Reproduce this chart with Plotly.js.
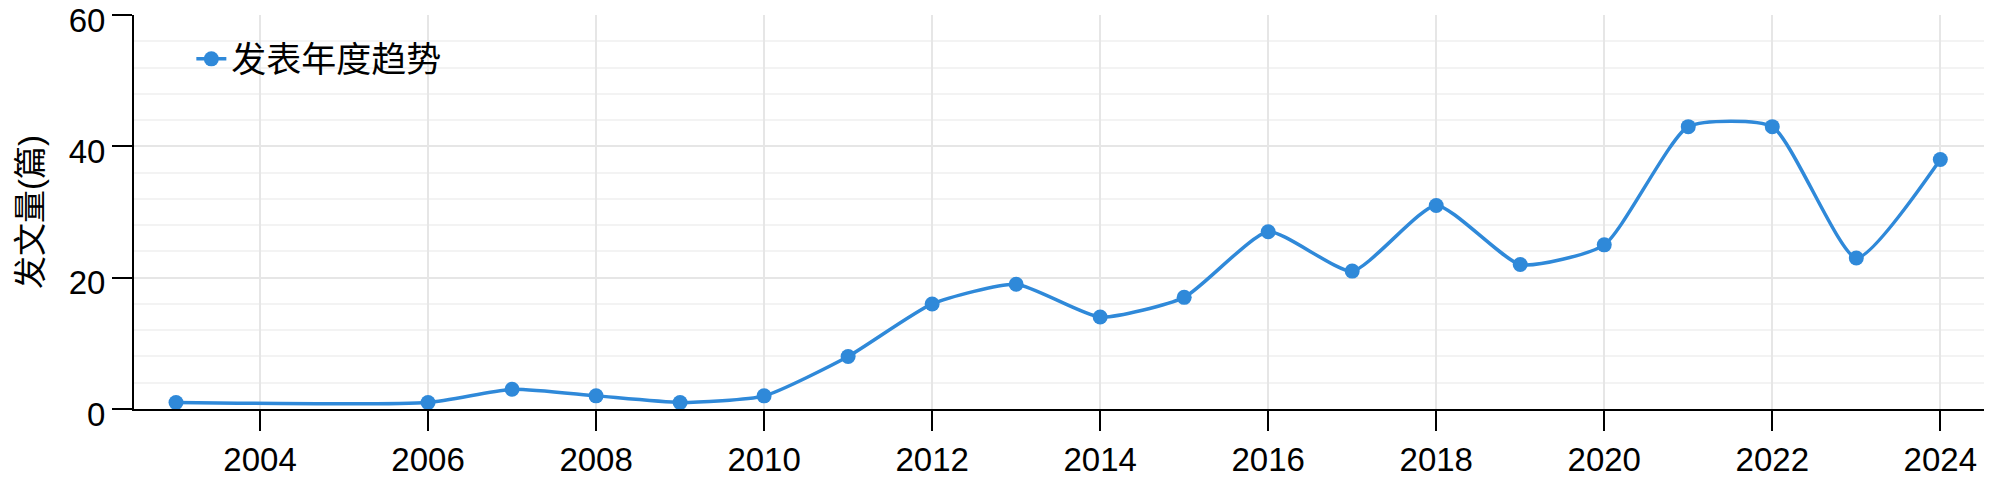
<!DOCTYPE html>
<html>
<head>
<meta charset="utf-8">
<script src="https://cdn.plot.ly/plotly-3.0.1.min.js"></script>
<style>html,body{margin:0;padding:0;background:#fff;}#chart{width:2000px;height:486px;}</style>
</head>
<body>
<div id="chart"></div>
<script>
const years = [2003, 2006, 2007, 2008, 2009, 2010, 2011, 2012, 2013, 2014, 2015, 2016, 2017, 2018, 2019, 2020, 2021, 2022, 2023, 2024];
const counts = [1, 1, 3, 2, 1, 2, 8, 16, 19, 14, 17, 27, 21, 31, 22, 25, 43, 43, 23, 38];
const seriesName = '发表年度趋势';
const yTitle = '发文量(篇)';
const yTicks = [0, 20, 40, 60];
const xTicks = [2004, 2006, 2008, 2010, 2012, 2014, 2016, 2018, 2020, 2022, 2024];

const FONT = '"Liberation Sans", Arial, "Noto Sans CJK SC", sans-serif';
const color = '#2f89d9';

const trace = {
  x: years, y: counts, name: seriesName, type: 'scatter', mode: 'lines+markers',
  line: {color: color, width: 3.5, shape: 'spline', smoothing: 0.55},
  marker: {color: color, size: 15},
  showlegend: true
};

const layout = {
  width: 2000, height: 486,
  margin: {l: 134, r: 16, t: 15, b: 77},
  paper_bgcolor: '#fff', plot_bgcolor: '#fff',
  font: {family: FONT, size: 33, color: '#000'},
  showlegend: true,
  legend: {x: 0.031, y: 0.963, xanchor: 'left', yanchor: 'top', bgcolor: 'rgba(0,0,0,0)',
           font: {family: FONT, size: 35, color: '#000'}, itemwidth: 30},
  xaxis: {
    range: [2002.5, 2024.52], tickvals: xTicks, ticktext: xTicks.map(String),
    showline: true, linecolor: '#000', linewidth: 2, ticks: 'outside', ticklen: 20, tickwidth: 2, tickcolor: '#000',
    showgrid: true, gridcolor: '#e6e6e6', gridwidth: 2, zeroline: false,
    tickfont: {family: FONT, size: 33, color: '#000'}
  },
  yaxis: {
    range: [0, 60], tickvals: yTicks, ticktext: yTicks.map(String),
    showline: true, linecolor: '#000', linewidth: 2, ticks: 'outside', ticklen: 20, tickwidth: 2, tickcolor: '#000',
    showgrid: true, gridcolor: '#e6e6e6', gridwidth: 2, zeroline: false,
    minor: {dtick: 4, tick0: 0, showgrid: true, gridcolor: '#f3f3f3', gridwidth: 2, ticks: ''},
    tickfont: {family: FONT, size: 33, color: '#000'}, ticklabeloverflow: 'allow', ticklabelshift: 5,
    title: {text: yTitle, font: {family: FONT, size: 33, color: '#000'}, standoff: 16}
  }
};

Plotly.newPlot('chart', [trace], layout, {displayModeBar: false, staticPlot: true});
</script>
</body>
</html>
